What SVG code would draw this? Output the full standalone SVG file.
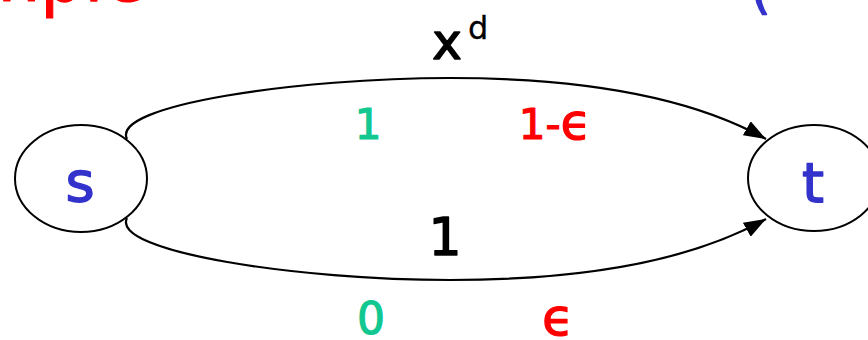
<svg xmlns="http://www.w3.org/2000/svg" width="868" height="340" viewBox="0 0 868 340">
<defs>
<style>
.node{fill:#fff;stroke:#000;stroke-width:2}
.edge{fill:none;stroke:#000;stroke-width:2.2}
.t{font-family:"DejaVu Sans","Liberation Sans",sans-serif;stroke-linejoin:round}
.blue{fill:#3333cc;stroke:#3333cc;stroke-width:1.5}
.green{fill:#11c890;stroke:#11c890;stroke-width:1.2}
.red{fill:#ff0000;stroke:#ff0000;stroke-width:1.2}
.blk{fill:#000;stroke:#000;stroke-width:1.5}
.thin{stroke-width:0.3}
</style>
<marker id="arr" viewBox="0 0 10 10" refX="10" refY="5" markerWidth="22" markerHeight="16" markerUnits="userSpaceOnUse" orient="auto" preserveAspectRatio="none">
<path d="M0,0 L10,5 L0,10 Z" fill="#000"/>
</marker>
</defs>
<rect width="868" height="340" fill="#fff"/>
<text class="t red" x="146" y="1" font-size="80" text-anchor="end" textLength="300" lengthAdjust="spacingAndGlyphs">Example</text>
<text class="t blue" x="751" y="8" font-size="50">(</text>
<g id="connectors">
<path class="edge" d="M127,139 C110,105 300,78 450,78 C600,78 700,102 766,139" marker-end="url(#arr)"/>
<path class="edge" d="M127,218 C110,252 300,280 450,280 C600,280 700,256 766,219" marker-end="url(#arr)"/>
</g>
<g id="labels">
<text class="t blk" x="447" y="59" font-size="50" text-anchor="middle">x</text>
<text class="t blk thin" x="468" y="39" font-size="32">d</text>
<text class="t green" x="368" y="139" font-size="42" text-anchor="middle">1</text>
<text class="t red" x="555" y="139" font-size="42" text-anchor="middle">1-<tspan font-size="50">ϵ</tspan></text>
<text class="t blk" x="445" y="255" font-size="52" text-anchor="middle">1</text>
<text class="t green" x="371" y="334" font-size="44" text-anchor="middle">0</text>
<text class="t red" x="558" y="335" font-size="52" text-anchor="middle">ϵ</text>
</g>
<g id="node-s">
<ellipse class="node" cx="81" cy="178.5" rx="66" ry="53.5"/>
<text class="t blue" x="80" y="201" font-size="56" text-anchor="middle">s</text>
</g>
<g id="node-t">
<ellipse class="node" cx="814" cy="178" rx="66" ry="53"/>
<text class="t blue" x="813" y="202" font-size="56" text-anchor="middle">t</text>
</g>
</svg>
